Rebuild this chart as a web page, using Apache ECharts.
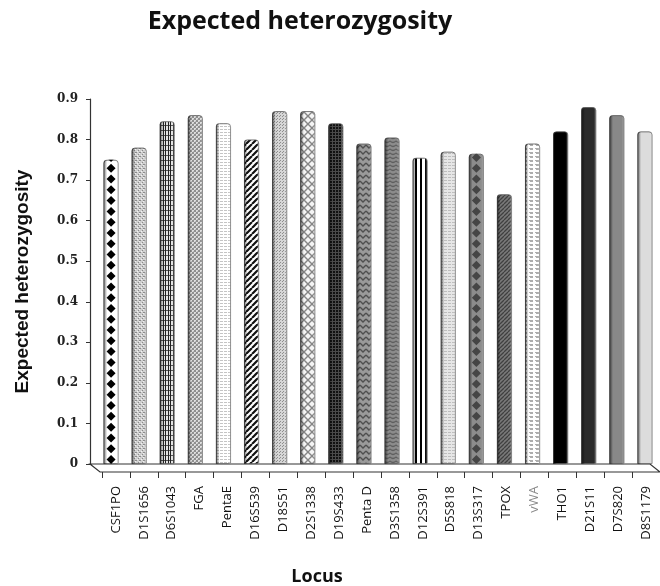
<!DOCTYPE html>
<html>
<head>
<meta charset="utf-8">
<script src="https://cdn.jsdelivr.net/npm/echarts@6/dist/echarts.min.js"></script>
<style>
  html, body { margin: 0; padding: 0; background: #fff; }
  #chart { width: 660px; height: 586px; }
</style>
</head>
<body>
<div id="chart"></div>
<script>
// STR loci and their expected heterozygosity
const categories = ['CSF1PO', 'D1S1656', 'D6S1043', 'FGA', 'PentaE', 'D16S539', 'D18S51', 'D2S1338',
  'D19S433', 'Penta D', 'D3S1358', 'D12S391', 'D5S818', 'D13S317', 'TPOX', 'vWA', 'THO1',
  'D21S11', 'D7S820', 'D8S1179'];
const heterozygosity = [0.75, 0.78, 0.845, 0.86, 0.84, 0.80, 0.87, 0.87, 0.84, 0.79, 0.805,
  0.755, 0.77, 0.765, 0.665, 0.79, 0.82, 0.88, 0.86, 0.82];
const yTickLabels = ['0', '0.1', '0.2', '0.3', '0.4', '0.5', '0.6', '0.7', '0.8', '0.9'];

// --- fill patterns, one per locus -------------------------------------
function tile(w, h, draw) {
  const c = document.createElement('canvas');
  c.width = w; c.height = h;
  const g = c.getContext('2d');
  draw(g, w, h);
  return { image: c, repeat: 'repeat' };
}
function px(g, color, pts) {
  g.fillStyle = color;
  pts.forEach(p => g.fillRect(p[0], p[1], p[2] || 1, p[3] || 1));
}
function diag(g, color, w, h, lw, dir) {
  g.strokeStyle = color; g.lineWidth = lw;
  g.beginPath();
  for (let k = -1; k <= 1; k++) {
    if (dir > 0) { g.moveTo(k * w, h); g.lineTo(k * w + w, 0); }
    else { g.moveTo(k * w, 0); g.lineTo(k * w + w, h); }
  }
  g.stroke();
}
const fills = {
  'CSF1PO': '#ffffff',
  'D1S1656': tile(4, 4, (g) => { px(g, '#cfcfcf', [[0, 0, 4, 4]]); px(g, '#8a8a8a', [[0, 0], [2, 2], [3, 0]]); px(g, '#f2f2f2', [[1, 3], [3, 1]]); }),
  'D6S1043': tile(5, 5, (g) => { px(g, '#e4e4e4', [[0, 0, 5, 5]]); px(g, '#555', [[0, 0, 5, 1]]); px(g, '#222', [[0, 0, 1, 5], [3, 0, 1, 5]]); }),
  'FGA': tile(4, 4, (g) => { px(g, '#dedede', [[0, 0, 4, 4]]); px(g, '#8f8f8f', [[0, 0, 2, 2], [2, 2, 2, 2]]); px(g, '#bbb', [[1, 3], [3, 1]]); }),
  'PentaE': tile(4, 3, (g) => { px(g, '#ffffff', [[0, 0, 4, 3]]); px(g, '#c4c4c4', [[0, 0, 3, 1]]); }),
  'D16S539': tile(6, 6, (g) => { px(g, '#ffffff', [[0, 0, 6, 6]]); diag(g, '#111', 6, 6, 2.2, 1); }),
  'D18S51': tile(3, 3, (g) => { px(g, '#d6d6d6', [[0, 0, 3, 3]]); px(g, '#8e8e8e', [[1, 1], [0, 2]]); }),
  'D2S1338': tile(8, 8, (g) => { px(g, '#f4f4f4', [[0, 0, 8, 8]]); diag(g, '#858585', 8, 8, 1.4, 1); diag(g, '#858585', 8, 8, 1.4, -1); }),
  'D19S433': tile(3, 3, (g) => { px(g, '#111', [[0, 0, 3, 3]]); px(g, '#4a4a4a', [[0, 0, 3, 1], [2, 0, 1, 3]]); }),
  'Penta D': tile(6, 6, (g) => {
    px(g, '#9a9a9a', [[0, 0, 6, 6]]);
    g.strokeStyle = '#4f4f4f'; g.lineWidth = 1.3;
    g.beginPath(); g.moveTo(0, 1); g.lineTo(3, 4); g.lineTo(6, 1); g.stroke();
  }),
  'D3S1358': tile(6, 4, (g) => {
    px(g, '#8c8c8c', [[0, 0, 6, 4]]);
    g.strokeStyle = '#5f5f5f'; g.lineWidth = 1.2;
    g.beginPath(); g.moveTo(0, 1); g.quadraticCurveTo(3, 4, 6, 1); g.stroke();
  }),
  'D12S391': tile(5, 2, (g) => { px(g, '#ffffff', [[0, 0, 5, 2]]); px(g, '#000', [[0, 0, 2, 2]]); }),
  'D5S818': tile(4, 3, (g) => { px(g, '#e6e6e6', [[0, 0, 4, 3]]); px(g, '#bdbdbd', [[0, 0, 3, 1]]); }),
  'D13S317': '#8c8c8c',
  'TPOX': tile(4, 4, (g) => { px(g, '#7a7a7a', [[0, 0, 4, 4]]); diag(g, '#404040', 4, 4, 1.3, 1); }),
  'vWA': tile(6, 4, (g) => { px(g, '#ffffff', [[0, 0, 6, 4]]); px(g, '#adadad', [[1, 0, 4, 1], [2, 1, 3, 1]]); }),
  'THO1': '#000000',
  'D21S11': '#2b2b2b',
  'D7S820': '#888888',
  'D8S1179': '#dcdcdc'
};
// loci whose fill carries a column of diamonds
const diamondColors = { 'CSF1PO': '#000000', 'D13S317': '#454545' };

const chart = echarts.init(document.getElementById('chart'), null, { renderer: 'canvas' });

const barData = categories.map((c, i) => ({
  value: heterozygosity[i],
  itemStyle: { color: fills[c] }
}));
const diamondData = categories.map((c, i) =>
  diamondColors[c] ? { value: heterozygosity[i], itemStyle: { color: diamondColors[c] } } : '-'
);

chart.setOption({
  animation: false,
  backgroundColor: '#ffffff',
  title: [
    {
      text: 'Expected heterozygosity',
      left: 300, top: 9, textAlign: 'center', padding: 0,
      textStyle: { fontFamily: 'Open Sans', fontWeight: 'bold', fontSize: 25, color: '#111' }
    },
    {
      text: 'Locus',
      left: 317, top: 568, textAlign: 'center', padding: 0,
      textStyle: { fontFamily: 'Open Sans', fontWeight: 'bold', fontSize: 18, color: '#111' }
    }
  ],
  grid: [
    { left: 97, width: 562, top: 99, height: 365 },
    { left: 102, width: 563, top: 99, height: 373 }
  ],
  xAxis: [
    {
      gridIndex: 0, type: 'category', data: categories,
      axisLine: { show: false }, axisTick: { show: false }, axisLabel: { show: false }
    },
    {
      gridIndex: 1, type: 'category', data: categories,
      axisLine: { show: false },
      axisTick: { show: true, length: 6, lineStyle: { color: '#333', width: 1 } },
      axisLabel: {
        rotate: 90, margin: 14, fontFamily: 'Open Sans', fontSize: 13,
        color: (v) => v === 'vWA' ? '#8a8a8a' : '#111'
      }
    }
  ],
  yAxis: [
    {
      gridIndex: 0, type: 'value', min: 0, max: 0.9, interval: 0.1, offset: 7,
      name: 'Expected heterozygosity', nameLocation: 'middle', nameGap: 58, nameRotate: 90,
      nameTextStyle: { fontFamily: 'Liberation Sans', fontWeight: 'bold', fontSize: 19, color: '#111' },
      axisLine: { show: true, lineStyle: { color: '#333', width: 1.2 } },
      axisTick: { show: true, length: 4, lineStyle: { color: '#333' } },
      splitLine: { show: false },
      axisLabel: {
        margin: 12, fontFamily: 'DejaVu Serif', fontWeight: 'bold', fontSize: 12, color: '#222',
        formatter: (v) => yTickLabels[Math.round(v * 10)]
      }
    },
    { gridIndex: 1, type: 'value', min: 0, max: 1, show: false }
  ],
  graphic: [
    {
      // floor of the plot
      type: 'polygon', z: 0, silent: true,
      shape: { points: [[90, 464], [650, 464], [660, 472], [100, 472]] },
      style: { fill: '#ffffff', stroke: '#333', lineWidth: 1.2 }
    }
  ],
  series: [
    {
      type: 'bar', xAxisIndex: 0, yAxisIndex: 0, barWidth: 15, z: 2,
      data: barData,
      itemStyle: { borderColor: '#555', borderWidth: 0.8, borderRadius: [3, 3, 0, 0] }
    },
    {
      type: 'pictorialBar', xAxisIndex: 0, yAxisIndex: 0, z: 3, silent: true,
      symbol: 'diamond', symbolRepeat: true, symbolClip: true, symbolSize: [9, 9], symbolMargin: 1,
      data: diamondData
    },
    {
      // cylinder shading over every bar
      type: 'bar', xAxisIndex: 0, yAxisIndex: 0, barWidth: 15, barGap: '-100%', z: 4, silent: true,
      data: heterozygosity,
      itemStyle: {
        borderRadius: [3, 3, 0, 0],
        color: new echarts.graphic.LinearGradient(0, 0, 1, 0, [
          { offset: 0, color: 'rgba(0,0,0,0.55)' },
          { offset: 0.14, color: 'rgba(0,0,0,0.25)' },
          { offset: 0.24, color: 'rgba(0,0,0,0)' },
          { offset: 0.82, color: 'rgba(255,255,255,0)' },
          { offset: 1, color: 'rgba(255,255,255,0.25)' }
        ])
      }
    }
  ]
});
</script>
</body>
</html>
